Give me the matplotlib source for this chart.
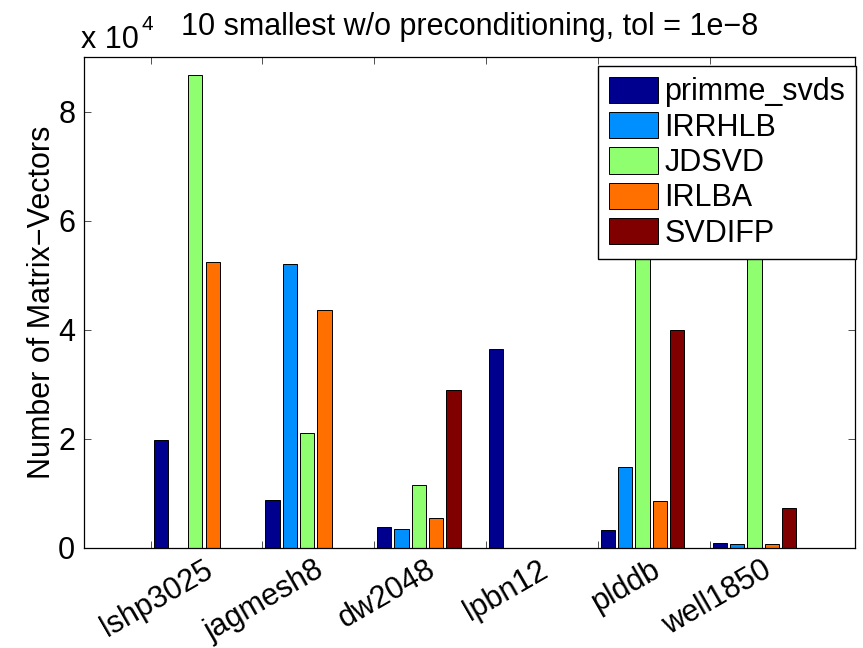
import numpy as np
import matplotlib
matplotlib.use("Agg")
import matplotlib.pyplot as plt

plt.rcParams['font.family'] = ['Liberation Sans', 'DejaVu Sans']

matrices = ['lshp3025', 'jagmesh8', 'dw2048', 'lpbn12', 'plddb', 'well1850']
methods = ['primme_svds', 'IRRHLB', 'JDSVD', 'IRLBA', 'SVDIFP']

# matrix-vector counts, units of 1e4
primme_svds = [1.97, 0.88, 0.385, 3.645, 0.325, 0.086]
irrhlb = [0, 5.21, 0.337, 0, 1.48, 0.073]
jdsvd = [8.68, 2.11, 1.155, 0, 6.8, 6.0]   # last two hidden by legend
irlba = [5.25, 4.37, 0.54, 0, 0.85, 0.07]
svdifp = [0, 0, 2.89, 0, 3.99, 0.72]

series = [primme_svds, irrhlb, jdsvd, irlba, svdifp]
colors = ['#00008F', '#008FFF', '#8FFF70', '#FF7000', '#800000']

fs = 22
fig = plt.figure(figsize=(8.63, 6.48), dpi=100)
ax = fig.add_axes([0.0968, 0.1548, 0.8939, 0.7568])

x = np.arange(1, len(matrices) + 1)
step = 0.155
width = 0.128
for k, (vals, c, name) in enumerate(zip(series, colors, methods)):
    ax.bar(x + 0.4 + (k - 2) * step, np.array(vals) * 1e4, width,
           color=c, edgecolor='black', linewidth=0.7, label=name)

ax.set_xlim(0.4, 7.3)
ax.set_ylim(0, 9e4)
ax.set_yticks([0, 2e4, 4e4, 6e4, 8e4])
ax.set_yticklabels(['0', '2', '4', '6', '8'], fontsize=fs)
ax.set_xticks(x)
ax.set_xticklabels([])
ax.tick_params(direction='in', length=5, width=0.6, top=True, right=True,
               color='#333333', pad=6)
for s in ax.spines.values():
    s.set_linewidth(0.9)

for xi, name in zip(x, matrices):
    ax.text(xi + 0.6, -0.015, name, transform=ax.get_xaxis_transform(),
            ha='right', va='top', rotation=30, fontsize=fs)

# exponent label, MATLAB style
ax.text(-0.003, 1.018, 'x 10', transform=ax.transAxes, fontsize=fs,
        ha='left', va='baseline')
ax.text(0.075, 1.055, '4', transform=ax.transAxes, fontsize=15,
        ha='left', va='baseline')

ax.set_title('10 smallest w/o preconditioning, tol = 1e\u22128', fontsize=fs, pad=16)
ax.set_ylabel('Number of Matrix\u2212Vectors', fontsize=fs, labelpad=1)

leg = ax.legend(loc='upper right', bbox_to_anchor=(1.001, 0.982), borderaxespad=0,
                fontsize=fs, fancybox=False, framealpha=1, edgecolor='black',
                handlelength=1.6, handleheight=0.95, handletextpad=0.2,
                labelspacing=0.15, borderpad=0.35)
leg.get_frame().set_linewidth(1.0)
leg.set_zorder(10)

fig.savefig('out.png', dpi=100)
